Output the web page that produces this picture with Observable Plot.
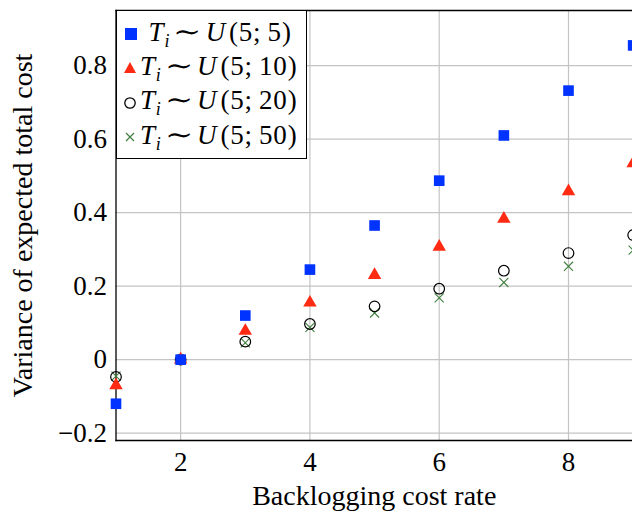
<!DOCTYPE html>
<html>
<head>
<meta charset="utf-8">
<script src="https://cdn.jsdelivr.net/npm/d3@7"></script>
<script src="https://cdn.jsdelivr.net/npm/@observablehq/plot@0.6"></script>
<style>
  html, body { margin: 0; padding: 0; background: #fff; overflow: hidden; }
  #wrap { position: relative; width: 632px; height: 513px; overflow: hidden; }
  #legend { position: absolute; left: 116px; top: 10px; width: 191px; height: 149px;
    border: 1.3px solid #000; background: #fff; box-sizing: border-box;
    font-family: "Liberation Serif", "DejaVu Serif", serif; font-size: 27px; color: #000; }
  #legend .row { position: absolute; left: 5px; height: 34px; display: flex; align-items: center; white-space: nowrap; letter-spacing: 0.8px; }
  #legend svg { width: 16px; height: 16px; margin-right: 2px; }
  #legend i { font-style: italic; }
  #legend .sim { display: inline-block; margin: 0 6px; transform: scaleX(1.25); }
</style>
</head>
<body>
<div id="wrap"></div>
<script>
const xs = [1, 2, 3, 4, 5, 6, 7, 8, 9];
const seriesNames = ["U(5;5)", "U(5;10)", "U(5;20)", "U(5;50)"];
const u5_5  = [-0.12, 0, 0.12, 0.245, 0.365, 0.487, 0.61, 0.732, 0.855];
const u5_10 = [-0.07, 0, 0.078, 0.155, 0.23, 0.307, 0.383, 0.458, 0.534];
const u5_20 = [-0.047, 0, 0.049, 0.097, 0.145, 0.193, 0.242, 0.29, 0.339];
const u5_50 = [-0.045, 0, 0.046, 0.088, 0.127, 0.168, 0.21, 0.254, 0.298];
const xTicks = [2, 4, 6, 8];
const yTicks = [-0.2, 0, 0.2, 0.4, 0.6, 0.8];

const toRows = (vals) => xs.map((x, i) => ({x, y: vals[i]}));
const font = '"Liberation Serif", "DejaVu Serif", serif';
const blue = "#0033ff", red = "#ff2a12", green = "#3f7f3f";

const chart = Plot.plot({
  width: 632, height: 513,
  marginLeft: 115.5, marginRight: 0, marginTop: 10, marginBottom: 73,
  style: {fontFamily: font, fontSize: "27px", color: "#000", background: "#fff", overflow: "hidden"},
  x: {domain: [1, 8.99], label: null},
  y: {domain: [-0.22, 0.95], label: null},
  marks: [
    Plot.gridX(xTicks, {stroke: "#c4c4c4", strokeOpacity: 1, strokeWidth: 1.2}),
    Plot.gridY(yTicks, {stroke: "#c4c4c4", strokeOpacity: 1, strokeWidth: 1.2}),
    Plot.axisX(xTicks, {anchor: "bottom", tickSize: 0, tickPadding: 11, fontSize: 27, tickFormat: d => d}),
    Plot.axisY(yTicks, {anchor: "left", tickSize: 0, tickPadding: 9, fontSize: 27,
      tickFormat: d => d < 0 ? "\u2212" + Math.abs(d) : String(d), style: {letterSpacing: "1.5px"}}),
    Plot.axisX({anchor: "bottom", ticks: [], label: "Backlogging cost rate", labelAnchor: "center", labelArrow: "none", labelOffset: 64, fontSize: 28, style: {letterSpacing: "0.9px"}}),
    Plot.axisY({anchor: "left", ticks: [], label: "Variance of expected total cost", labelAnchor: "center", labelArrow: "none", labelOffset: 104, fontSize: 28, style: {letterSpacing: "1px"}}),
    Plot.frame({anchor: "left", stroke: "#000", strokeWidth: 1.3}),
    Plot.frame({anchor: "bottom", stroke: "#000", strokeWidth: 1.3}),
    Plot.frame({anchor: "top", stroke: "#000", strokeWidth: 1.3}),
    Plot.dot(toRows(u5_50), {x: "x", y: "y", symbol: "times", r: 4.2, stroke: green, strokeWidth: 1.1, clip: false}),
    Plot.dot(toRows(u5_20), {x: "x", y: "y", symbol: "circle", r: 5.3, stroke: "#000", strokeWidth: 1.2, fill: "none", clip: false}),
    Plot.dot(toRows(u5_10), {x: "x", y: "y", symbol: "triangle", r: 5, fill: red, stroke: "none", clip: false}),
    Plot.dot(toRows(u5_5), {x: "x", y: "y", symbol: "square", r: 6, fill: blue, stroke: "none", clip: false})
  ]
});
const wrap = document.getElementById("wrap");
wrap.appendChild(chart);

// legend (HTML overlay)
const legend = document.createElement("div");
legend.id = "legend";
const syms = [
  `<svg viewBox="-8 -8 16 16"><rect x="-6" y="-6" width="12" height="12" fill="${blue}"/></svg>`,
  `<svg viewBox="-8 -8 16 16"><path d="M0,-6L6,5L-6,5Z" fill="${red}"/></svg>`,
  `<svg viewBox="-8 -8 16 16"><circle r="5.2" fill="none" stroke="#000" stroke-width="1.3"/></svg>`,
  `<svg viewBox="-8 -8 16 16"><path d="M-4,-4L4,4M4,-4L-4,4" stroke="${green}" stroke-width="1.2"/></svg>`
];
seriesNames.forEach((name, i) => {
  const row = document.createElement("div");
  row.className = "row";
  row.style.top = (6 + i * 34.3) + "px";
  if (i === 0) row.style.left = "6px";
  const m = name.match(/U\((\d+);(\d+)\)/);
  row.innerHTML = syms[i] + `<span>${i === 0 ? "&nbsp;" : ""}<i>T</i><sub style="font-size:18px;font-style:italic">i</sub><span class="sim">\u223C</span><i>U</i>&#8202;(${m[1]};&#8201;${m[2]})</span>`;
  legend.appendChild(row);
});
wrap.appendChild(legend);
</script>
</body>
</html>
